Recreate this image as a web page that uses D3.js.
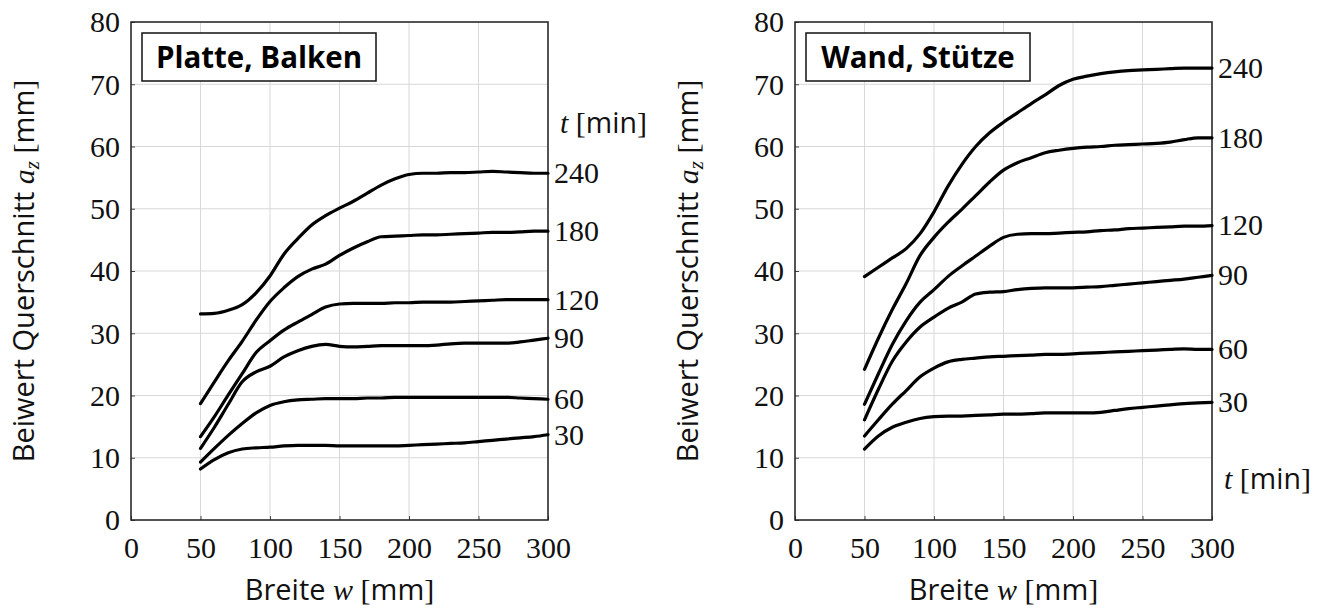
<!DOCTYPE html>
<html>
<head>
<meta charset="utf-8">
<script src="https://cdn.jsdelivr.net/npm/d3@7"></script>
<style>
  html, body { margin: 0; padding: 0; background: #fff; }
  svg { display: block; }
</style>
</head>
<body>
<svg id="chart" width="1331" height="610"></svg>
<script>
// ---------------- data ----------------
const widths = [50,60,70,80,90,100,110,120,130,140,150,160,170,180,190,200,210,220,230,240,250,260,270,280,290,300];
const durations = ["30", "60", "90", "120", "180", "240"];
const xTicks = [0, 50, 100, 150, 200, 250, 300];
const yTicks = [0, 10, 20, 30, 40, 50, 60, 70, 80];
const panelTitles = ["Platte, Balken", "Wand, Stütze"];

// Platte, Balken
const pb30  = [8.2,9.7,10.8,11.4,11.6,11.7,11.9,12.0,12.0,12.0,11.9,11.9,11.9,11.9,11.9,12.0,12.1,12.2,12.3,12.4,12.6,12.8,13.0,13.2,13.4,13.7];
const pb60  = [9.3,11.5,13.6,15.5,17.2,18.4,19.0,19.3,19.4,19.5,19.5,19.5,19.6,19.6,19.7,19.7,19.7,19.7,19.7,19.7,19.7,19.7,19.7,19.6,19.5,19.4];
const pb90  = [11.5,14.9,18.6,22.2,23.8,24.7,26.2,27.2,27.9,28.2,27.9,27.8,27.9,28.0,28.0,28.0,28.0,28.1,28.3,28.4,28.4,28.4,28.4,28.6,28.9,29.2];
const pb120 = [13.4,16.6,20.1,23.5,26.9,28.8,30.5,31.8,33.0,34.2,34.7,34.8,34.8,34.8,34.9,34.9,35.0,35.0,35.0,35.1,35.2,35.3,35.4,35.4,35.4,35.4];
const pb180 = [18.7,22.2,25.6,28.7,32.1,35.1,37.3,39.1,40.3,41.1,42.5,43.7,44.7,45.5,45.6,45.7,45.8,45.8,45.9,46.0,46.1,46.2,46.2,46.3,46.4,46.4];
const pb240 = [33.1,33.2,33.7,34.6,36.5,39.2,42.7,45.2,47.4,48.9,50.1,51.2,52.5,53.8,54.8,55.5,55.7,55.7,55.8,55.8,55.9,56.0,55.9,55.8,55.7,55.7];

// Wand, Stütze
const ws30  = [11.4,13.5,14.9,15.7,16.3,16.6,16.7,16.7,16.8,16.9,17.0,17.0,17.1,17.2,17.2,17.2,17.2,17.3,17.6,17.9,18.1,18.3,18.5,18.7,18.8,18.9];
const ws60  = [13.5,16.1,18.6,20.8,23.0,24.4,25.4,25.8,26.0,26.2,26.3,26.4,26.5,26.6,26.6,26.7,26.8,26.9,27.0,27.1,27.2,27.3,27.4,27.5,27.4,27.4];
const ws90  = [16.1,21.0,25.5,28.6,31.0,32.6,34.0,35.0,36.3,36.6,36.7,37.0,37.2,37.3,37.3,37.3,37.4,37.5,37.7,37.9,38.1,38.3,38.5,38.7,39.0,39.3];
const ws120 = [18.6,23.5,28.2,32.0,35.0,37.0,39.1,40.8,42.4,44.0,45.4,45.9,46.0,46.0,46.1,46.2,46.3,46.5,46.6,46.8,46.9,47.0,47.1,47.2,47.2,47.3];
const ws180 = [24.2,29.2,33.8,38.0,42.5,45.4,47.8,49.9,52.1,54.3,56.2,57.4,58.2,59.0,59.4,59.7,59.9,60.0,60.2,60.3,60.4,60.5,60.7,61.1,61.4,61.4];
const ws240 = [39.1,40.6,42.1,43.6,46.0,49.5,53.6,57.1,60.0,62.2,63.9,65.4,66.9,68.3,69.8,70.8,71.3,71.7,72.0,72.2,72.3,72.4,72.5,72.6,72.6,72.6];

const panels = [
  { title: panelTitles[0], series: [pb30, pb60, pb90, pb120, pb180, pb240], unitLabelAt: 63.8, x0: 131, x1: 548, boxW: 234 },
  { title: panelTitles[1], series: [ws30, ws60, ws90, ws120, ws180, ws240], unitLabelAt: 6.5,  x0: 795, x1: 1212, boxW: 224 }
];

// ---------------- drawing ----------------
const svg = d3.select("#chart");
const yTop = 22, yBot = 520;
const serif = '"Liberation Serif", "DejaVu Serif", serif';
const sans = '"Open Sans", "Liberation Sans", sans-serif';

panels.forEach(p => {
  const x = d3.scaleLinear().domain([0, 300]).range([p.x0, p.x1]);
  const y = d3.scaleLinear().domain([0, 80]).range([yBot, yTop]);
  const g = svg.append("g");

  // grid
  g.append("g").selectAll("line").data(xTicks).join("line")
    .attr("x1", d => x(d)).attr("x2", d => x(d))
    .attr("y1", yTop).attr("y2", yBot)
    .attr("stroke", "#d8d8d8").attr("stroke-width", 1);
  g.append("g").selectAll("line").data(yTicks).join("line")
    .attr("x1", p.x0).attr("x2", p.x1)
    .attr("y1", d => y(d)).attr("y2", d => y(d))
    .attr("stroke", "#d8d8d8").attr("stroke-width", 1);

  // axes (ticks inside, labels via d3 axis)
  const xAxis = d3.axisBottom(x).tickValues(xTicks).tickSizeInner(-4).tickSizeOuter(0).tickPadding(12);
  const yAxis = d3.axisLeft(y).tickValues(yTicks).tickSizeInner(-4).tickSizeOuter(0).tickPadding(11);
  const gx = g.append("g").attr("transform", `translate(0,${yBot})`).call(xAxis);
  const gy = g.append("g").attr("transform", `translate(${p.x0},0)`).call(yAxis);
  [gx, gy].forEach(a => {
    a.select(".domain").remove();
    a.selectAll(".tick line").attr("stroke", "#444").attr("stroke-width", 1);
    a.selectAll(".tick text").attr("font-family", serif).attr("font-size", 30).attr("fill", "#111");
  });
  gx.selectAll(".tick text").attr("dy", "0.88em");
  gy.selectAll(".tick text").attr("dy", "0.33em");

  // frame
  g.append("rect").attr("x", p.x0).attr("y", yTop)
    .attr("width", p.x1 - p.x0).attr("height", yBot - yTop)
    .attr("fill", "none").attr("stroke", "#222").attr("stroke-width", 1.5);

  // curves
  const line = d3.line().x((d, i) => x(widths[i])).y(d => y(d)).curve(d3.curveMonotoneX);
  g.append("g").selectAll("path").data(p.series).join("path")
    .attr("d", d => line(d))
    .attr("fill", "none").attr("stroke", "#000").attr("stroke-width", 3.2)
    .attr("stroke-linejoin", "round").attr("stroke-linecap", "round");

  // duration labels at right
  g.append("g").selectAll("text").data(p.series).join("text")
    .attr("x", p.x1 + 6)
    .attr("y", d => y(d[d.length - 1]))
    .attr("dy", "0.33em")
    .attr("font-family", serif).attr("font-size", 30).attr("fill", "#111")
    .text((d, i) => durations[i]);

  // t [min]
  const tl = g.append("text").attr("x", p.x1 + 12).attr("y", y(p.unitLabelAt)).attr("dy", "0.33em")
    .attr("font-size", 30).attr("fill", "#111");
  tl.append("tspan").attr("font-family", serif).attr("font-style", "italic").text("t");
  tl.append("tspan").attr("font-family", serif).text(" [");
  tl.append("tspan").attr("font-family", sans).attr("font-size", 28.5).text("min");
  tl.append("tspan").attr("font-family", serif).text("]");

  // title box
  const bx = p.x0 + 11, by = 33, bw = p.boxW, bh = 48;
  g.append("rect").attr("x", bx).attr("y", by).attr("width", bw).attr("height", bh)
    .attr("fill", "#fff").attr("stroke", "#111").attr("stroke-width", 1.5);
  g.append("text").attr("x", bx + bw / 2).attr("y", by + bh / 2).attr("dy", "0.36em")
    .attr("text-anchor", "middle").attr("font-family", sans).attr("font-weight", "bold")
    .attr("font-size", 29.5).attr("fill", "#000").text(p.title);

  // x label
  const xl = g.append("text").attr("x", (p.x0 + p.x1) / 2).attr("y", 600)
    .attr("text-anchor", "middle").attr("font-size", 30).attr("fill", "#111");
  xl.append("tspan").attr("font-family", sans).attr("font-size", 29).text("Breite ");
  xl.append("tspan").attr("font-family", serif).attr("font-style", "italic").text("w");
  xl.append("tspan").attr("font-family", serif).text(" [");
  xl.append("tspan").attr("font-family", sans).attr("font-size", 29).text("mm");
  xl.append("tspan").attr("font-family", serif).text("]");

  // y label
  const yl = g.append("text")
    .attr("transform", `translate(${p.x0 - 97},271) rotate(-90)`)
    .attr("text-anchor", "middle").attr("font-size", 30).attr("fill", "#111");
  yl.append("tspan").attr("font-family", sans).attr("font-size", 29).text("Beiwert Querschnitt ");
  yl.append("tspan").attr("font-family", serif).attr("font-style", "italic").text("a");
  yl.append("tspan").attr("font-family", serif).attr("font-style", "italic").attr("font-size", 21).attr("dy", 5).text("z");
  yl.append("tspan").attr("font-family", serif).attr("dy", -5).text(" [");
  yl.append("tspan").attr("font-family", sans).attr("font-size", 29).text("mm");
  yl.append("tspan").attr("font-family", serif).text("]");
});
</script>
</body>
</html>
